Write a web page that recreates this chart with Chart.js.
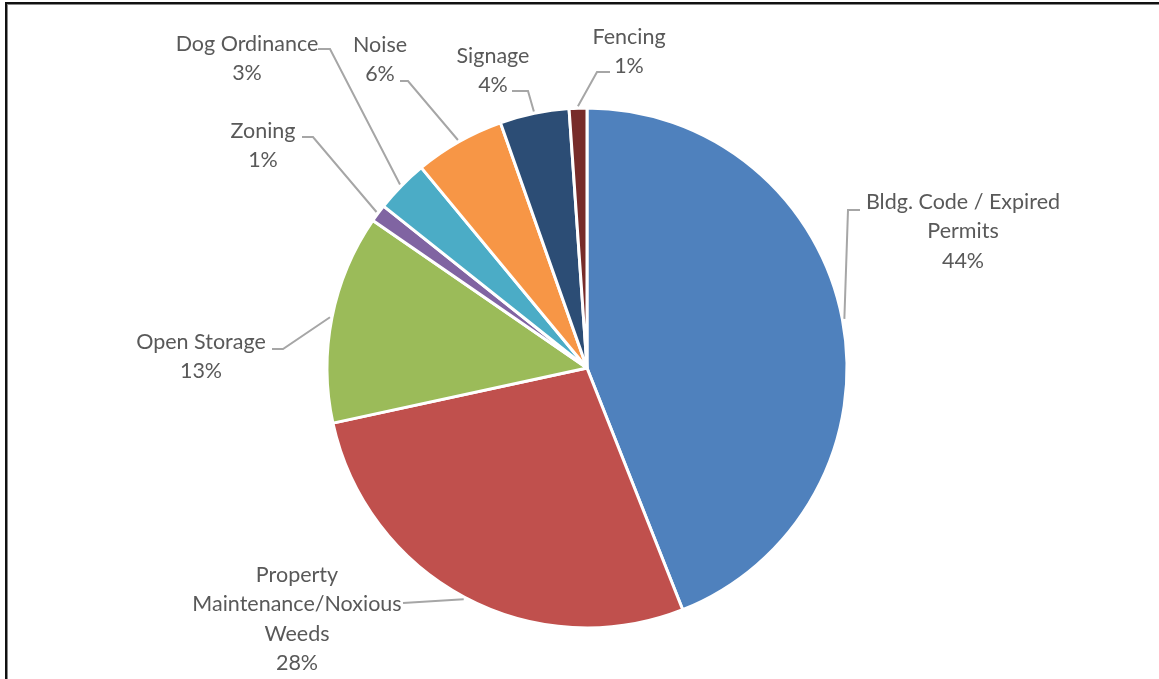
<!DOCTYPE html>
<html>
<head>
<meta charset="utf-8">
<script src="https://cdn.jsdelivr.net/npm/chart.js@4.4.1/dist/chart.umd.min.js"></script>
<style>
  html, body { margin: 0; padding: 0; background: #fff; overflow: hidden; }
  #wrap { position: relative; width: 1159px; height: 679px; }
  #frame { position: absolute; left: 5px; top: 2px; width: 1200px; height: 800px;
           border-left: 2px solid #111; border-top: 2px solid #111;
           box-shadow: inset 1px 1px 0 #888; pointer-events: none; }
  canvas { position: absolute; left: 0; top: 0; }
</style>
</head>
<body>
<div id="wrap">
  <canvas id="c" width="1159" height="679"></canvas>
  <div id="frame"></div>
</div>
<script>
// ---- data ----
const categories = [
  "Bldg. Code / Expired Permits",
  "Property Maintenance/Noxious Weeds",
  "Open Storage",
  "Zoning",
  "Dog Ordinance",
  "Noise",
  "Signage",
  "Fencing"
];
const categoryLines = [
  ["Bldg. Code / Expired", "Permits"],
  ["Property", "Maintenance/Noxious", "Weeds"],
  ["Open Storage"],
  ["Zoning"],
  ["Dog Ordinance"],
  ["Noise"],
  ["Signage"],
  ["Fencing"]
];
const shares = [44.0, 27.6, 13.0, 1.1, 3.3, 5.6, 4.3, 1.1];

// ---- style / layout ----
const sliceColors = ["#4F81BD", "#C0504D", "#9BBB59", "#8064A2", "#4BACC6", "#F79646", "#2C4D75", "#772C2A"];
// label placement relative to pie centre: text centre (first line), leader elbow, leader end
const labelLayout = [
  { text: [376, -166], elbow: [261, -158], end: [273, -158] },
  { text: [-290, 207], elbow: [-184, 235], end: [-184, 235] },
  { text: [-386, -26], elbow: [-304, -19], end: [-315, -19] },
  { text: [-324, -237], elbow: [-274, -231], end: [-285, -231] },
  { text: [-340, -324], elbow: [-257, -319], end: [-269, -319] },
  { text: [-207, -323], elbow: [-179, -287], end: [-187, -287] },
  { text: [-94, -312], elbow: [-59, -277], end: [-75, -277] },
  { text: [42, -331], elbow: [10, -296], end: [23, -296] }
];
const FONT = '21.5px Lato';
const LINE_H = 29.3;

const labelPlugin = {
  id: 'excelLabels',
  afterDatasetsDraw(chart) {
    const ctx = chart.ctx;
    const meta = chart.getDatasetMeta(0);
    const total = shares.reduce((a, b) => a + b, 0);
    ctx.save();
    meta.data.forEach((arc, i) => {
      const p = arc.getProps(['x', 'y', 'startAngle', 'endAngle', 'outerRadius'], true);
      const mid = (p.startAngle + p.endAngle) / 2;
      const r = p.outerRadius + 2;
      const sx = p.x + Math.cos(mid) * r;
      const sy = p.y + Math.sin(mid) * r;
      const L = labelLayout[i];
      ctx.strokeStyle = '#A6A6A6';
      ctx.lineWidth = 2;
      ctx.beginPath();
      ctx.moveTo(sx, sy);
      ctx.lineTo(p.x + L.elbow[0], p.y + L.elbow[1]);
      ctx.lineTo(p.x + L.end[0], p.y + L.end[1]);
      ctx.stroke();
      const lines = categoryLines[i].concat([Math.round(shares[i] / total * 100) + '%']);
      ctx.fillStyle = '#595959';
      ctx.font = FONT;
      ctx.textAlign = 'center';
      ctx.textBaseline = 'middle';
      lines.forEach((t, k) => {
        ctx.fillText(t, p.x + L.text[0], p.y + L.text[1] + k * LINE_H);
      });
    });
    ctx.restore();
  }
};

new Chart(document.getElementById('c'), {
  type: 'pie',
  data: {
    labels: categories,
    datasets: [{
      data: shares,
      backgroundColor: sliceColors,
      borderColor: '#FFFFFF',
      borderWidth: 3
    }]
  },
  options: {
    responsive: false,
    animation: false,
    radius: 260,
    layout: { padding: { left: 15, top: 57, right: 0, bottom: 0 } },
    plugins: { legend: { display: false }, tooltip: { enabled: false } }
  },
  plugins: [labelPlugin]
});
</script>
</body>
</html>
